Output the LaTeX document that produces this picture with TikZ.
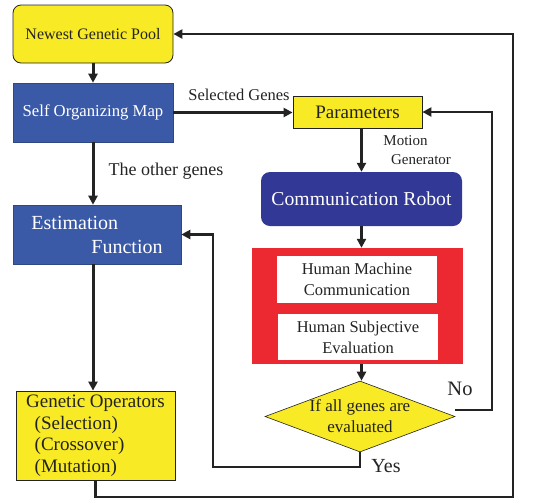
\documentclass[tikz,border=0pt]{standalone}
\usepackage{fontspec}
\setmainfont{Liberation Serif}
\usetikzlibrary{shapes.geometric, arrows.meta}
\definecolor{gayellow}{RGB}{248,234,36}
\definecolor{gablue}{RGB}{58,90,168}
\definecolor{robotblue}{RGB}{50,56,150}
\definecolor{evalred}{RGB}{236,40,48}
\definecolor{ink}{RGB}{35,35,35}

\begin{document}
\begin{tikzpicture}[x=1pt, y=-1pt,
  flow/.style={line width=3pt, ink, -{Triangle[length=9pt,width=9pt]}},
  loop/.style={line width=2.6pt, ink, -{Triangle[length=9pt,width=9pt]}},
  yellowbox/.style={draw=ink, line width=0.8pt, fill=gayellow, text=ink, inner sep=0pt},
  bluebox/.style={draw=gablue!80!black, line width=0.6pt, fill=gablue, text=white, inner sep=0pt},
  whitebox/.style={fill=white, text=ink, inner sep=0pt, align=center, font=\fontsize{16.5}{21}\selectfont},
  lbl/.style={text=ink, inner sep=0pt}]
\useasboundingbox (0,0) rectangle (549,499);

% ---- left column: genetic pool and SOM ----
\node[yellowbox, rounded corners=8pt, minimum width=160pt, minimum height=58pt,
      font=\fontsize{16}{19}\selectfont] (pool) at (93,34) {Newest Genetic Pool};
\node[bluebox, minimum width=160pt, minimum height=59pt,
      font=\fontsize{16.7}{20}\selectfont] (som) at (93,112.5) {Self Organizing Map};
\node[bluebox, minimum width=168pt, minimum height=59pt, align=left,
      font=\fontsize{20}{24}\selectfont] (est) at (97,234.5) {Estimation\\\hspace*{3em}Function};
\node[yellowbox, minimum width=159pt, minimum height=89pt, align=left,
      font=\fontsize{19}{21.5}\selectfont] (genop) at (95.5,435.5)
      {Genetic Operators\\\hspace*{0.45em}(Selection)\\\hspace*{0.45em}(Crossover)\\\hspace*{0.45em}(Mutation)};

% ---- right column: robot evaluation ----
\node[yellowbox, minimum width=129pt, minimum height=32pt,
      font=\fontsize{19}{22}\selectfont] (param) at (357.5,112) {Parameters};
\node[fill=robotblue, text=white, rounded corners=9pt, inner sep=0pt,
      minimum width=201pt, minimum height=54pt,
      font=\fontsize{19.7}{23}\selectfont] (robot) at (361.5,199) {Communication Robot};
\node[fill=evalred, minimum width=211pt, minimum height=116pt, inner sep=0pt] (evalbox) at (357.5,306) {};
\node[whitebox, minimum width=160pt, minimum height=47pt] (hmc) at (357,279.5) {Human Machine\\Communication};
\node[whitebox, minimum width=160pt, minimum height=46pt] (hse) at (358,337) {Human Subjective\\Evaluation};
\node[diamond, draw=ink, line width=0.6pt, fill=gayellow, text=ink, inner sep=0pt,
      aspect=2.68, minimum width=190pt, minimum height=71pt, align=center,
      font=\fontsize{17}{21}\selectfont] (check) at (360,416.5) {If all genes are\\evaluated};

% ---- labels ----
\node[lbl, font=\fontsize{16.5}{20}\selectfont] (sellbl) at (239,95) {Selected Genes};
\node[lbl, font=\fontsize{18}{20}\selectfont] (otherlbl) at (166,171) {The other genes};
\node[lbl, font=\fontsize{15}{18}\selectfont] (motionlbl) at (405.5,141) {Motion};
\node[lbl, font=\fontsize{15}{18}\selectfont] (genlbl) at (421,160) {Generator};
\node[lbl, font=\fontsize{20.5}{22}\selectfont] (nolbl) at (460,389) {No};
\node[lbl, font=\fontsize{20}{22}\selectfont] (yeslbl) at (386,466) {Yes};

% ---- main flow ----
\draw[flow] (pool) -- (som);
\draw[flow] (som.east) -- (som.east -| param.west);
\draw[flow] (som.south) -- (som.south |- est.north);
\draw[flow] (som.south |- est.south) -- (som.south |- genop.north);
\draw[flow] (robot.north |- param.south) -- (robot.north);
\draw[flow] (robot.south) -- (robot.south |- evalbox.north);
\draw[flow] (robot.south |- evalbox.south) -- (robot.south |- check.north);

% ---- feedback loops ----
\coordinate (noturn) at (492,410);
\draw[loop] (check.east |- noturn) -- (noturn) -- (noturn |- param.east) -- (param.east);
\coordinate (yesturn) at (213,467);
\draw[loop] (check.south) -- (check.south |- yesturn) -- (yesturn) -- (yesturn |- est.east) -- (est.east);
\coordinate (backturn) at (513,497);
\draw[loop] (genop.south) -- (genop.south |- backturn) -- (backturn) -- (backturn |- pool.east) -- (pool.east);
\end{tikzpicture}
\end{document}
